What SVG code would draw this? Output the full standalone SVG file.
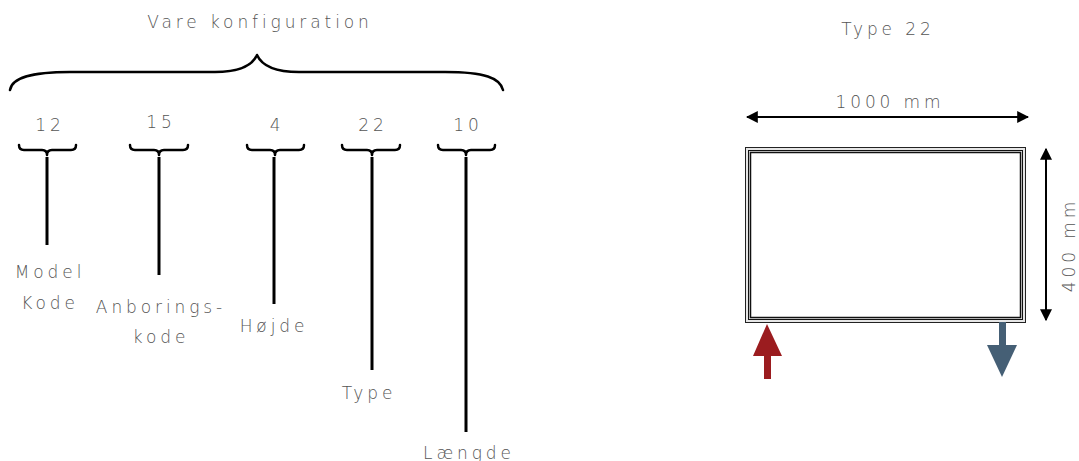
<svg xmlns="http://www.w3.org/2000/svg" width="1079" height="461" viewBox="0 0 1079 461">
<style>
.t{font-family:"DejaVu Sans","Open Sans","Liberation Sans",sans-serif;font-weight:200;font-size:17px;letter-spacing:3.9px;fill:#555;text-anchor:middle}
.br{fill:none;stroke:#000;stroke-width:2.5;stroke-linejoin:round;stroke-linecap:round}
.ln{stroke:#000;stroke-width:3}
.dim{stroke:#000;stroke-width:2}
</style>
<defs>
<marker id="ah" viewBox="0 0 10 10" refX="9" refY="5" markerWidth="6" markerHeight="6" orient="auto-start-reverse" markerUnits="strokeWidth">
<path d="M0,0 L10,5 L0,10 z" fill="#000"/>
</marker>
</defs>
<rect width="1079" height="461" fill="#fff"/>
<g id="title"><text class="t" x="260" y="28">Vare konfiguration</text></g>
<g id="connectors">
<path class="br" d="M10,90 C12,78 30,72 70,72 L215,72 C240,72 252,66 257,55 C262,66 274,72 299,72 L445,72 C485,72 500,78 503,90"/>
<path class="br" d="M19,145 Q19,150 24,150 L42,150 Q47,150 47,155 Q47,150 52,150 L71,150 Q76,150 76,145"/>
<path class="br" d="M130,145 Q130,150 135,150 L154,150 Q159,150 159,155 Q159,150 164,150 L183,150 Q188,150 188,145"/>
<path class="br" d="M247,145 Q247,150 252,150 L270,150 Q275,150 275,155 Q275,150 280,150 L299,150 Q304,150 304,145"/>
<path class="br" d="M342,145 Q342,150 347,150 L367,150 Q372,150 372,155 Q372,150 377,150 L395,150 Q400,150 400,145"/>
<path class="br" d="M438,145 Q438,150 443,150 L461,150 Q466,150 466,155 Q466,150 471,150 L490,150 Q495,150 495,145"/>
<line class="ln" x1="47" y1="157" x2="47" y2="245"/>
<line class="ln" x1="159" y1="157" x2="159" y2="275"/>
<line class="ln" x1="274" y1="157" x2="274" y2="304"/>
<line class="ln" x1="372" y1="157" x2="372" y2="370"/>
<line class="ln" x1="466" y1="157" x2="466" y2="432"/>
<line class="dim" x1="747" y1="117" x2="1028" y2="117" marker-start="url(#ah)" marker-end="url(#ah)"/>
<line class="dim" x1="1046" y1="149" x2="1046" y2="320" marker-start="url(#ah)" marker-end="url(#ah)"/>
</g>
<g id="n12"><text class="t" x="50" y="131">12</text><text class="t" x="50" y="278">Model</text><text class="t" x="50" y="309">Kode</text></g>
<g id="n15"><text class="t" x="161" y="128">15</text><text class="t" x="161" y="313">Anborings-</text><text class="t" x="161" y="343">kode</text></g>
<g id="n4"><text class="t" x="277" y="131">4</text><text class="t" x="274" y="332">Højde</text></g>
<g id="n22"><text class="t" x="373" y="131">22</text><text class="t" x="369" y="399">Type</text></g>
<g id="n10"><text class="t" x="468" y="131">10</text><text class="t" x="469" y="459">Længde</text></g>
<g id="radiator">
<text class="t" x="888" y="35">Type 22</text>
<rect x="745.5" y="147.5" width="280" height="175" fill="#e6e6e6" stroke="#222" stroke-width="1"/>
<rect x="748.5" y="150.5" width="274" height="169" fill="none" stroke="#111" stroke-width="1"/>
<rect x="750.5" y="152.5" width="270" height="165" fill="#fff" stroke="#111" stroke-width="1.5"/>
<text class="t" x="890" y="108">1000 mm</text>
<text class="t" transform="translate(1075,245) rotate(-90)" x="0" y="0">400 mm</text>
<path d="M767,324 L782,356 L771,356 L771,379 L764,379 L764,356 L753,356 z" fill="#9b1c1f"/>
<path d="M999,322 L1006,322 L1006,345 L1017,345 L1002,377 L987,345 L999,345 z" fill="#455f75"/>
</g>
</svg>
